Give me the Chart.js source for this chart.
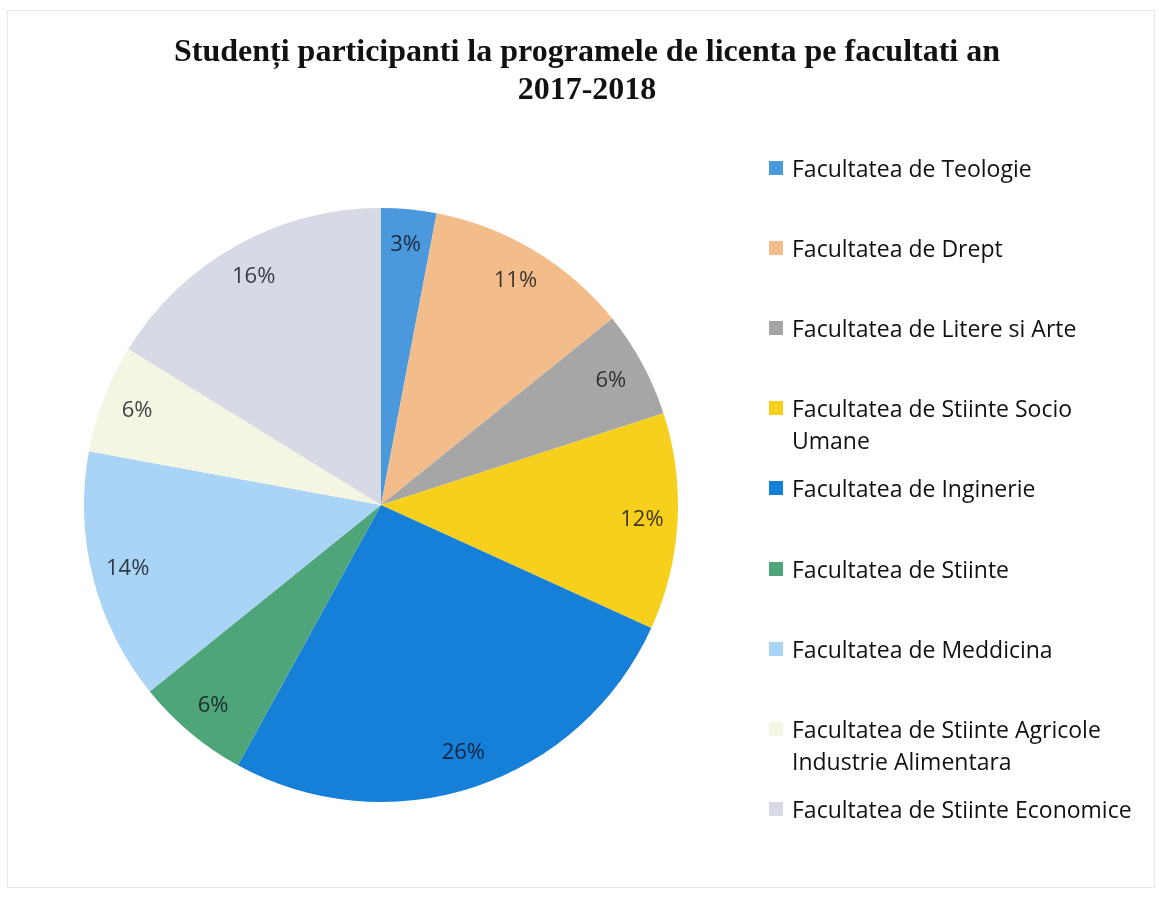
<!DOCTYPE html>
<html>
<head>
<meta charset="utf-8">
<script src="https://cdn.jsdelivr.net/npm/chart.js"></script>
<style>
  html, body { margin: 0; padding: 0; background: #fff; }
  #wrap { position: relative; width: 1159px; height: 897px; overflow: hidden; }
  #frame { position: absolute; left: 7px; top: 10px; width: 1148px; height: 878px; border: 1px solid #e8e8e8; box-sizing: border-box; }
  #chart { position: absolute; left: 0; top: 0; }
  #title {
    position: absolute; left: 0; top: 31px; width: 1174px; text-align: center;
    font-family: "Liberation Serif", "Times New Roman", serif; font-weight: bold;
    font-size: 32px; line-height: 38px; color: #111;
  }
  #legend { position: absolute; left: 769px; top: 0; margin: 0; padding: 0; list-style: none; }
  #legend li {
    position: absolute; left: 0; white-space: nowrap;
    font-family: "Open Sans", sans-serif; font-size: 23px; line-height: 32px; color: #111;
  }
  #legend .box { position: absolute; left: 0; top: 9px; width: 14px; height: 14px; }
  #legend .txt { position: absolute; left: 23px; top: 0; }
</style>
</head>
<body>
<div id="wrap">
  <div id="frame"></div>
  <canvas id="chart" width="1159" height="897"></canvas>
  <div id="title"></div>
  <ul id="legend"></ul>
</div>
<script>
// date
const titleLines = ['Studenți participanti la programele de licenta pe facultati an', '2017-2018'];
const facultati = [
  ['Facultatea de Teologie'],
  ['Facultatea de Drept'],
  ['Facultatea de Litere si Arte'],
  ['Facultatea de Stiinte Socio', 'Umane'],
  ['Facultatea de Inginerie'],
  ['Facultatea de Stiinte'],
  ['Facultatea de Meddicina'],
  ['Facultatea de Stiinte Agricole', 'Industrie Alimentara'],
  ['Facultatea de Stiinte Economice']
];
const procente = [3.0, 11.2, 5.8, 11.8, 26.2, 6.2, 13.7, 5.9, 16.2];
const culori = ['#4b98dc', '#f2bd8b', '#a6a6a6', '#f6d01c', '#167fd8', '#4fa57a', '#aad4f5', '#f5f5e4', '#d7d9e4'];

// titlu
document.getElementById('title').innerHTML = titleLines.join('<br>');

// legenda (HTML, ca sa poata rupe randurile)
const legendEl = document.getElementById('legend');
facultati.forEach((lines, i) => {
  const li = document.createElement('li');
  li.style.top = (152 + i * 80.1) + 'px';
  li.innerHTML = `<span class="box" style="background:${culori[i]}"></span><span class="txt">${lines.join('<br>')}</span>`;
  legendEl.appendChild(li);
});

// etichete procentuale in interiorul feliilor
const pieLabels = {
  id: 'pieLabels',
  afterDatasetsDraw(chart) {
    const { ctx } = chart;
    const meta = chart.getDatasetMeta(0);
    const data = chart.data.datasets[0].data;
    const total = data.reduce((a, b) => a + b, 0);
    ctx.save();
    ctx.font = '22px "Open Sans", sans-serif';
    ctx.textAlign = 'center';
    ctx.textBaseline = 'middle';
    ctx.fillStyle = 'rgba(15, 15, 25, 0.8)';
    meta.data.forEach((arc, i) => {
      const { x, y, startAngle, endAngle, outerRadius } = arc.getProps(['x', 'y', 'startAngle', 'endAngle', 'outerRadius'], true);
      const mid = (startAngle + endAngle) / 2;
      const r = outerRadius * 0.88;
      ctx.fillText(Math.round(data[i] / total * 100) + '%', x + Math.cos(mid) * r, y + Math.sin(mid) * r);
    });
    ctx.restore();
  }
};

const chart = new Chart(document.getElementById('chart'), {
  type: 'pie',
  data: {
    labels: facultati.map(l => l.join(' ')),
    datasets: [{
      data: procente,
      backgroundColor: culori,
      borderWidth: 0
    }]
  },
  options: {
    responsive: false,
    animation: false,
    layout: { padding: { left: 84, right: 481, top: 208, bottom: 95 } },
    plugins: {
      legend: { display: false },
      tooltip: { enabled: false },
      title: { display: false }
    }
  },
  plugins: [pieLabels]
});
</script>
</body>
</html>
